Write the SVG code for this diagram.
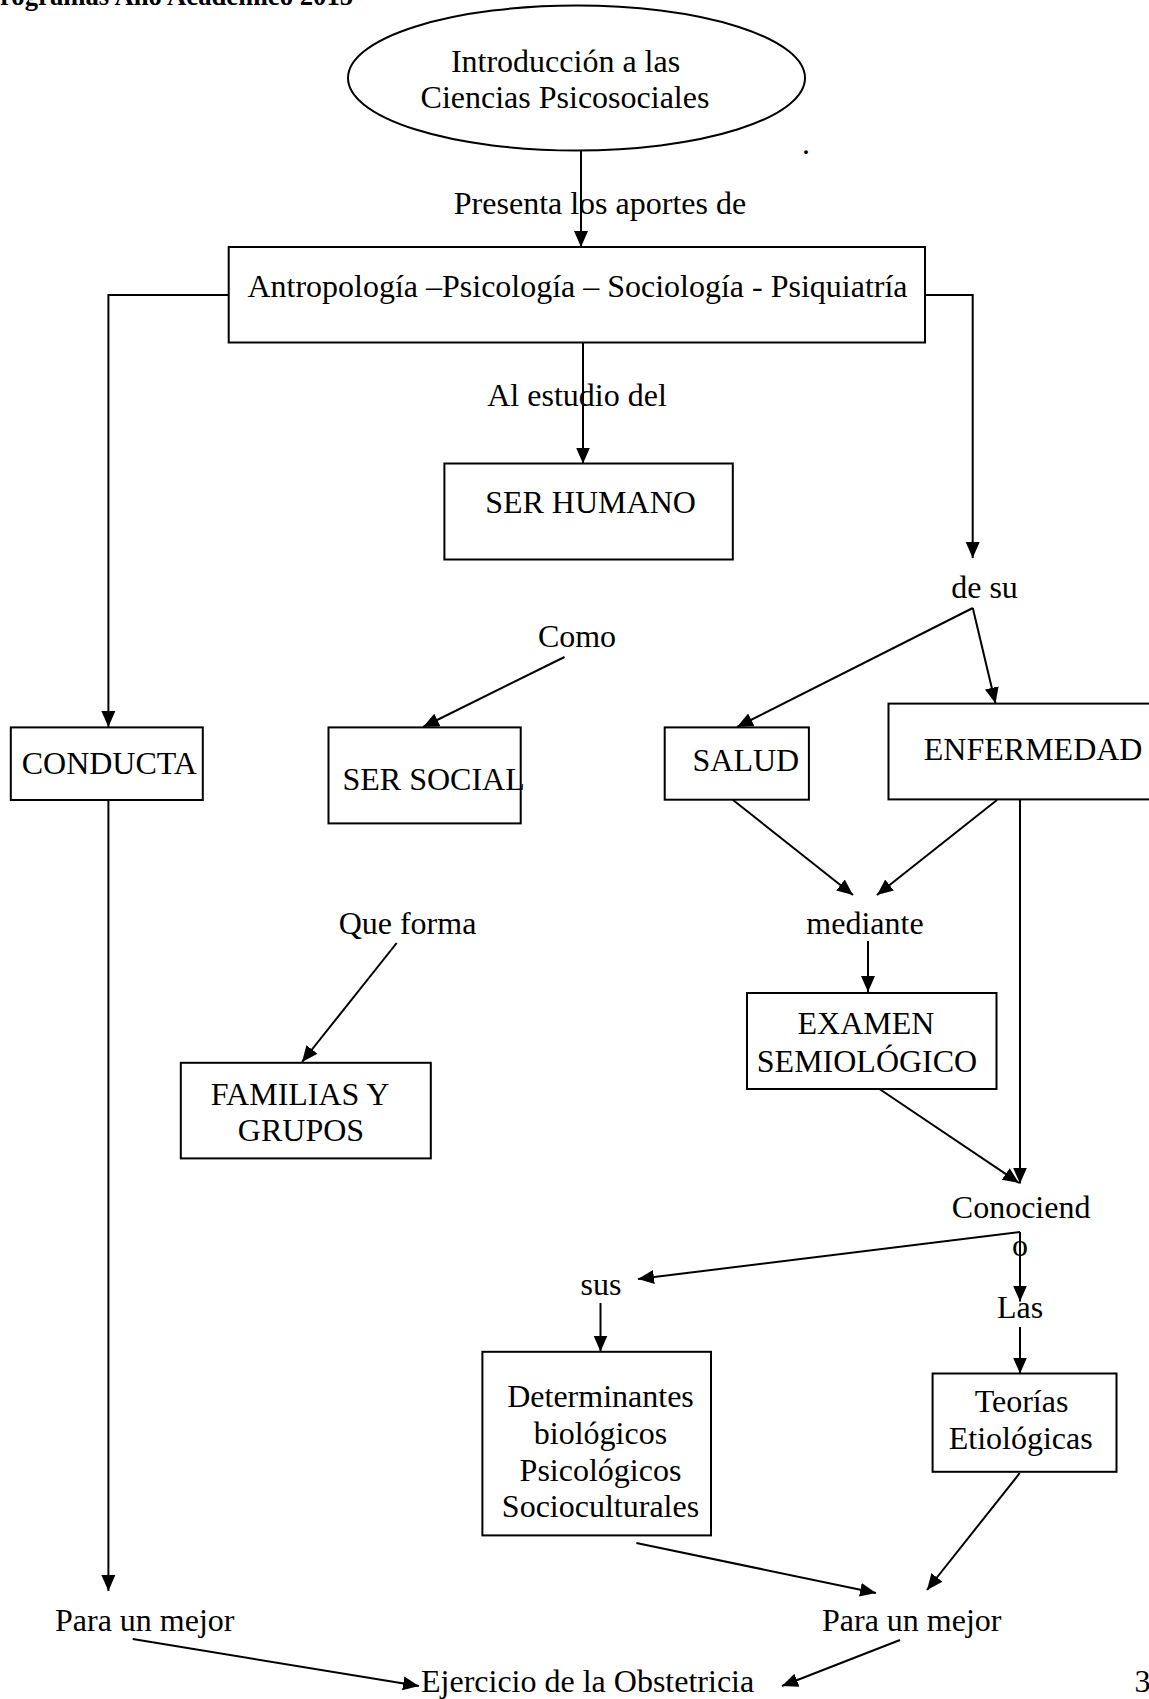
<svg xmlns="http://www.w3.org/2000/svg" width="1149" height="1699" viewBox="0 0 1149 1699">
<style>
  text { font-family: "Liberation Serif", "Times New Roman", serif; font-size: 32px; fill: #000; }
  .c { text-anchor: middle; }
  .hdr { font-weight: bold; font-size: 26.7px; }
  .box { fill: #fff; stroke: #000; stroke-width: 2; }
  .ln { fill: none; stroke: #000; stroke-width: 2; }
  .arr { marker-end: url(#ah); }
</style>
<defs>
  <marker id="ah" markerUnits="userSpaceOnUse" markerWidth="16" markerHeight="16" viewBox="0 0 16 14" refX="16" refY="7" orient="auto">
    <path d="M0,0 L16,7 L0,14 z" fill="#000"/>
  </marker>
</defs>
<rect width="1149" height="1699" fill="#fff"/>

<text class="hdr" x="0" y="5">rogramas Año Académico 2015</text>

<g id="connectors">
  <line class="ln arr" x1="581" y1="151" x2="581" y2="247"/>
  <path class="ln arr" d="M228.7,295 H108.4 V727"/>
  <path class="ln arr" d="M925,295 H972.7 V558"/>
  <line class="ln arr" x1="583" y1="342.5" x2="583" y2="463.5"/>
  <line class="ln arr" x1="564.5" y1="657" x2="423" y2="727"/>
  <line class="ln arr" x1="108.4" y1="800" x2="108.4" y2="1591"/>
  <line class="ln arr" x1="972.8" y1="608" x2="737" y2="727"/>
  <line class="ln arr" x1="972.8" y1="608" x2="995.5" y2="703.5"/>
  <line class="ln arr" x1="733" y1="800" x2="853" y2="895"/>
  <line class="ln arr" x1="997" y1="800" x2="877" y2="895"/>
  <line class="ln arr" x1="1020" y1="800" x2="1020" y2="1183.5"/>
  <line class="ln arr" x1="868" y1="941" x2="868" y2="992"/>
  <line class="ln arr" x1="876.5" y1="1087" x2="1019" y2="1183"/>
  <line class="ln arr" x1="1020" y1="1232" x2="638" y2="1279"/>
  <line class="ln arr" x1="1020" y1="1232" x2="1020" y2="1301.5"/>
  <line class="ln arr" x1="1020" y1="1327" x2="1020" y2="1373.5"/>
  <line class="ln arr" x1="600.5" y1="1303" x2="600.5" y2="1351.5"/>
  <line class="ln arr" x1="396.7" y1="943" x2="302" y2="1062"/>
  <line class="ln arr" x1="1019.8" y1="1473" x2="927" y2="1590"/>
  <line class="ln arr" x1="636.4" y1="1543" x2="876" y2="1593"/>
  <line class="ln arr" x1="132.7" y1="1639" x2="419" y2="1686"/>
  <line class="ln arr" x1="900" y1="1640" x2="782" y2="1686"/>
</g>

<g id="intro">
  <ellipse class="box" cx="576.5" cy="78" rx="228.5" ry="72.5"/>
  <text class="c" x="565.5" y="71.5">Introducción a las</text>
  <text class="c" x="565" y="108.4">Ciencias Psicosociales</text>
</g>
<text x="802" y="154">.</text>

<g id="lbl-presenta"><text class="c" x="600" y="213.5">Presenta los aportes de</text></g>

<g id="disciplinas">
  <rect class="box" x="228.7" y="247" width="696.3" height="95.5"/>
  <text x="247.5" y="297" textLength="660" lengthAdjust="spacingAndGlyphs">Antropología –Psicología – Sociología - Psiquiatría</text>
</g>

<g id="lbl-estudio"><text class="c" x="577" y="406">Al estudio del</text></g>

<g id="ser-humano">
  <rect class="box" x="444.4" y="463.5" width="288.4" height="96"/>
  <text class="c" x="590.5" y="513">SER HUMANO</text>
</g>

<g id="lbl-como"><text class="c" x="577" y="647">Como</text></g>

<g id="conducta">
  <rect class="box" x="10.8" y="727.4" width="192" height="72.6"/>
  <text x="21.7" y="774">CONDUCTA</text>
</g>

<g id="ser-social">
  <rect class="box" x="328.5" y="727.4" width="192.2" height="96"/>
  <text x="342.5" y="790">SER SOCIAL</text>
</g>

<g id="lbl-desu"><text class="c" x="984.5" y="598">de su</text></g>

<g id="salud">
  <rect class="box" x="664.7" y="727.4" width="144.2" height="72.3"/>
  <text x="692.5" y="770.5">SALUD</text>
</g>

<g id="enfermedad">
  <rect class="box" x="888.5" y="703.6" width="275" height="95.8"/>
  <text x="923.8" y="760">ENFERMEDAD</text>
</g>

<g id="lbl-mediante"><text class="c" x="865" y="933.5">mediante</text></g>

<g id="examen">
  <rect class="box" x="747" y="993" width="249.5" height="96"/>
  <text class="c" x="866" y="1034">EXAMEN</text>
  <text class="c" x="867" y="1071.5">SEMIOLÓGICO</text>
</g>

<g id="lbl-queforma"><text class="c" x="407.5" y="933.5">Que forma</text></g>

<g id="familias">
  <rect class="box" x="180.8" y="1062.8" width="250" height="95.6"/>
  <text class="c" x="300" y="1105">FAMILIAS Y</text>
  <text class="c" x="301" y="1140.5">GRUPOS</text>
</g>

<g id="lbl-conociendo">
  <text x="951.8" y="1218">Conociend</text>
  <text class="c" x="1020" y="1255.5">o</text>
</g>

<g id="lbl-sus"><text class="c" x="601" y="1295">sus</text></g>
<g id="lbl-las"><text class="c" x="1020" y="1318">Las</text></g>

<g id="determinantes">
  <rect class="box" x="482.4" y="1351.8" width="228.6" height="183.6"/>
  <text class="c" x="600.5" y="1406.7">Determinantes</text>
  <text class="c" x="600.5" y="1443.5">biológicos</text>
  <text class="c" x="600.5" y="1480.5">Psicológicos</text>
  <text class="c" x="600.5" y="1517">Socioculturales</text>
</g>

<g id="teorias">
  <rect class="box" x="932.6" y="1373.5" width="183.9" height="98.3"/>
  <text class="c" x="1021.5" y="1412">Teorías</text>
  <text class="c" x="1020.7" y="1448.5">Etiológicas</text>
</g>

<g id="lbl-mejor-izq"><text x="55" y="1630.5">Para un mejor</text></g>
<g id="lbl-mejor-der"><text x="822" y="1630.5">Para un mejor</text></g>

<g id="ejercicio"><text x="421" y="1691.5">Ejercicio de la Obstetricia</text></g>

<text x="1134.5" y="1692">3</text>
</svg>
